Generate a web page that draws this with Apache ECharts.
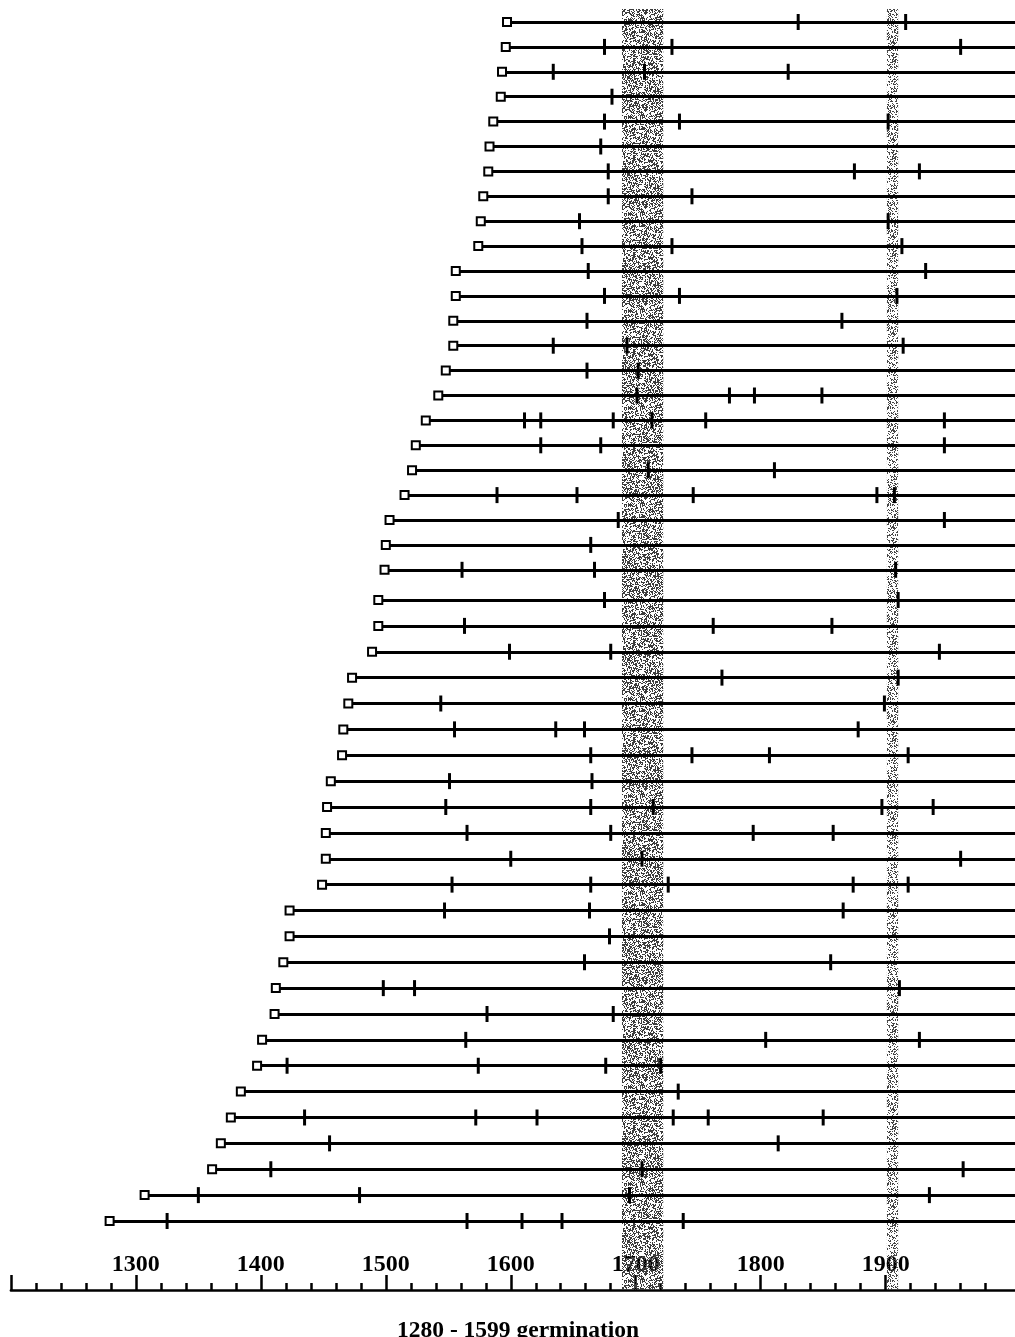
<!DOCTYPE html>
<html><head><meta charset="utf-8">
<script src="https://cdn.jsdelivr.net/npm/echarts@6/dist/echarts.min.js"></script>
<style>html,body{margin:0;padding:0;background:#fff}#c{width:1015px;height:1337px}</style>
</head><body><div id="c"></div>
<script>
// germination year of each tree (top row first)
const germination = [1597,1596,1593,1592,1586,1583,1582,1578,1576,1574,1556,1556,1554,1554,1548,1542,1532,1524,1521,1515,1503,1500,1499,1494,1494,1489,1473,1470,1466,1465,1456,1453,1452,1452,1449,1423,1423,1418,1412,1411,1401,1397,1384,1376,1368,1361,1307,1279];
// marked years along each tree's line
const eventYears = [
  [1830,1916],[1675,1729,1960],[1634,1707,1822],[1681],[1675,1735,1902],
  [1672],[1678,1875,1927],[1678,1745],[1655,1902],[1657,1729,1913],
  [1662,1932],[1675,1735,1909],[1661,1865],[1634,1693,1914],[1661,1702],
  [1701,1775,1795,1849],[1611,1624,1682,1713,1756,1947],[1624,1672,1947],[1710,1811],[1589,1653,1746,1893,1907],
  [1686,1947],[1664],[1561,1667,1908],[1675,1910],[1563,1762,1857],
  [1599,1680,1943],[1769,1910],[1544,1899],[1555,1636,1659,1878],[1664,1745,1807,1918],
  [1551,1665],[1548,1664,1714,1897,1938],[1565,1680,1794,1858],[1600,1705,1960],[1553,1664,1726,1874,1918],
  [1547,1663,1866],[1679],[1659,1856],[1498,1523,1911],[1581,1682],
  [1564,1804,1927],[1421,1574,1676,1720],[1734],[1435,1572,1621,1730,1758,1850],[1455,1814],
  [1408,1705,1962],[1350,1479,1695,1935],[1325,1565,1609,1641,1738]
];
const shadedBands = [[1689,1722],[1901,1910]];
const majorTicks = [1200,1300,1400,1500,1600,1700,1800,1900];
const minorTicks = [1220,1240,1260,1280,1320,1340,1360,1380,1420,1440,1460,1480,1520,1540,1560,1580,1620,1640,1660,1680,1720,1740,1760,1780,1820,1840,1860,1880,1920,1940,1960,1980];
const tickLabels = [1300,1400,1500,1600,1700,1800,1900];
const axisStart = 1200, axisEnd = 2003.5;
const titleText = '1280 - 1599 germination';
const upperPanelRows = 23; // rows 0..22 in the upper (slightly tighter) panel of the scan

function stipple(density, shade) {
  const n = 97;
  const c = document.createElement('canvas'); c.width = n; c.height = n;
  const ctx = c.getContext('2d');
  const img = ctx.createImageData(n, n);
  for (let y = 0; y < n; y++) for (let x = 0; x < n; x++) {
    let h = (Math.imul(x, 374761393) + Math.imul(y, 668265263)) >>> 0;
    h = Math.imul(h ^ (h >>> 13), 1274126177) >>> 0;
    h = (h ^ (h >>> 16)) >>> 0;
    const v = (h & 1023) / 1023;
    const k = (y * n + x) * 4;
    if (v < density) { img.data[k] = shade; img.data[k+1] = shade; img.data[k+2] = shade; img.data[k+3] = 255; }
    else { img.data[k+3] = 0; }
  }
  ctx.putImageData(img, 0, 0);
  return c;
}
const bandFill = [stipple(0.42, 60), stipple(0.32, 70)];

const chart = echarts.init(document.getElementById('c'), null, { renderer: 'canvas' });
const xCommon = { type: 'value', min: axisStart, max: axisEnd, position: 'bottom', splitLine: { show: false } };

function seriesFor(gi, rowFrom, rowTo) {
  const idx = [];
  for (let i = rowFrom; i < rowTo; i++) idx.push(i);
  const ticks = [];
  idx.forEach(i => eventYears[i].forEach(y => ticks.push([y, i])));
  const xi = gi === 0 ? 0 : 1;
  return [
    { type: 'scatter', data: [], xAxisIndex: xi, yAxisIndex: gi, z: 1, silent: true,
      markArea: { silent: true, data: shadedBands.map((b, k) => [
        { xAxis: b[0], itemStyle: { color: { image: bandFill[k], repeat: 'repeat' } } }, { xAxis: b[1] }]) } },
    { type: 'lines', coordinateSystem: 'cartesian2d', xAxisIndex: xi, yAxisIndex: gi, z: 3, silent: true, clip: false,
      data: idx.map(i => ({ coords: [[germination[i], i], [axisEnd, i]] })),
      lineStyle: { color: '#000', width: 3, opacity: 1 } },
    { type: 'scatter', xAxisIndex: xi, yAxisIndex: gi, data: ticks, symbol: 'rect', symbolSize: [3, 16], z: 4, silent: true,
      itemStyle: { color: '#000', opacity: 1 } },
    { type: 'scatter', xAxisIndex: xi, yAxisIndex: gi, data: idx.map(i => [germination[i], i]), symbol: 'rect', symbolSize: [8, 8], z: 5, silent: true,
      itemStyle: { color: '#fff', borderColor: '#000', borderWidth: 2, opacity: 1 } }
  ];
}

chart.setOption({
  animation: false,
  backgroundColor: '#fff',
  title: { text: titleText, left: 392, top: 1314,
    textStyle: { fontFamily: 'Liberation Serif', fontSize: 23.5, fontWeight: 'bold', color: '#000' } },
  grid: [
    { left: 10.9, top: 9, width: 1004.5, height: 576, containLabel: false },
    { left: 10.9, top: 585, width: 1004.5, bottom: 47, containLabel: false }
  ],
  xAxis: [
    Object.assign({}, xCommon, { gridIndex: 0, show: false }),
    Object.assign({}, xCommon, { gridIndex: 1,
      axisLine: { show: true, onZero: false, lineStyle: { color: '#000', width: 2.5 } },
      axisTick: { show: true, inside: true, length: 15, customValues: majorTicks, lineStyle: { color: '#000', width: 2.5 } },
      axisLabel: { show: true, inside: true, margin: 13, customValues: tickLabels, color: '#000',
        formatter: v => String(v),
        fontFamily: 'Liberation Serif', fontSize: 24, fontWeight: 'bold' }
    }),
    Object.assign({}, xCommon, { gridIndex: 1,
      axisLine: { show: false, onZero: false },
      axisTick: { show: true, inside: true, length: 7, customValues: minorTicks, lineStyle: { color: '#000', width: 2.5 } },
      axisLabel: { show: false }
    })
  ],
  yAxis: [
    { gridIndex: 0, type: 'value', min: -0.522, max: 22.61, inverse: true, show: false },
    { gridIndex: 1, type: 'value', min: 22.42, max: 49.667, inverse: true, show: false }
  ],
  series: seriesFor(0, 0, upperPanelRows).concat(seriesFor(1, upperPanelRows, germination.length))
});
</script></body></html>
